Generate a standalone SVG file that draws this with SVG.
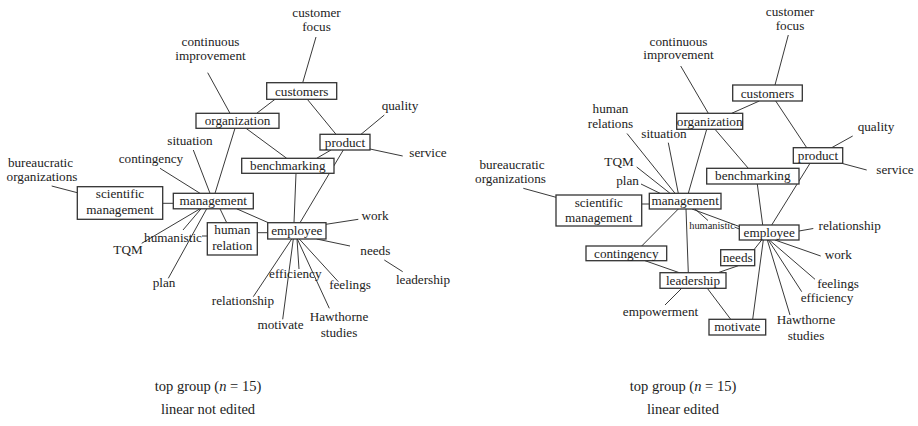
<svg xmlns="http://www.w3.org/2000/svg" width="918" height="426" viewBox="0 0 918 426" font-family="'Liberation Serif', 'DejaVu Serif', serif">
<style>
text{font-family:"Liberation Serif","DejaVu Serif",serif;font-size:13.2px;fill:#222;text-anchor:middle}
.box{fill:#fff;stroke:#333;stroke-width:1.3}
.cn line{stroke:#222;stroke-width:0.9}
.sm{font-size:10.4px}
.cap{font-size:14.5px}
</style>
<rect width="918" height="426" fill="#fff"/>
<!-- LEFT connectors -->
<g id="connectors-left" class="cn">
<line x1="316" y1="37" x2="302.7" y2="82.7"/>
<line x1="275" y1="99.3" x2="256.7" y2="113.3"/>
<line x1="207.7" y1="72.7" x2="230" y2="113.3"/>
<line x1="307.3" y1="99.3" x2="336" y2="134.3"/>
<line x1="384.3" y1="115" x2="361" y2="134.3"/>
<line x1="370" y1="149" x2="402.7" y2="156"/>
<line x1="246" y1="128.3" x2="286.7" y2="158.3"/>
<line x1="331" y1="150" x2="316.7" y2="158.3"/>
<line x1="343.3" y1="150" x2="300" y2="222.7"/>
<line x1="296" y1="173.3" x2="294" y2="222.7"/>
<line x1="235" y1="128.3" x2="215" y2="193.3"/>
<line x1="193.3" y1="150" x2="210" y2="193.3"/>
<line x1="160" y1="168.3" x2="200" y2="193.3"/>
<line x1="51.7" y1="186" x2="77.3" y2="192.7"/>
<line x1="162.7" y1="203.3" x2="173.3" y2="203.3"/>
<line x1="220" y1="208.8" x2="226.7" y2="222.7"/>
<line x1="236.7" y1="208.8" x2="268.3" y2="222.7"/>
<line x1="257.3" y1="232.7" x2="267.7" y2="232.7"/>
<line x1="201" y1="208.8" x2="183" y2="230"/>
<line x1="202" y1="236" x2="207.3" y2="236"/>
<line x1="200" y1="208.8" x2="141.7" y2="243.3"/>
<line x1="206.7" y1="208.8" x2="168.3" y2="278.3"/>
<line x1="326" y1="224.3" x2="358.3" y2="219.3"/>
<line x1="316.7" y1="239" x2="350" y2="246"/>
<line x1="384.3" y1="260" x2="402.7" y2="271.7"/>
<line x1="297" y1="239" x2="299" y2="269"/>
<line x1="291.7" y1="239" x2="253.3" y2="296.7"/>
<line x1="293.3" y1="239" x2="282.7" y2="319.3"/>
<line x1="299.3" y1="239" x2="338.3" y2="281.7"/>
<line x1="297.3" y1="239" x2="329.3" y2="308.3"/>
</g>
<!-- RIGHT connectors -->
<g id="connectors-right" class="cn">
<line x1="788.3" y1="35" x2="775" y2="85"/>
<line x1="759.3" y1="101" x2="731.7" y2="113.3"/>
<line x1="680.7" y1="66" x2="708.3" y2="113.3"/>
<line x1="775.7" y1="101" x2="806.7" y2="147.7"/>
<line x1="852.7" y1="136" x2="831.7" y2="147.7"/>
<line x1="841.7" y1="163.3" x2="866.7" y2="170"/>
<line x1="715" y1="129.3" x2="748.3" y2="168.3"/>
<line x1="706.7" y1="129.3" x2="688.3" y2="193.3"/>
<line x1="627" y1="133.5" x2="675" y2="193.3"/>
<line x1="668.3" y1="142.7" x2="678.3" y2="193.3"/>
<line x1="636.7" y1="167" x2="670" y2="193.3"/>
<line x1="641" y1="184" x2="660" y2="193.3"/>
<line x1="523.3" y1="188.3" x2="556" y2="197.3"/>
<line x1="641.7" y1="204" x2="649.3" y2="204"/>
<line x1="678.3" y1="209" x2="641.7" y2="246"/>
<line x1="645" y1="260.7" x2="679.3" y2="272.7"/>
<line x1="686" y1="209" x2="688.3" y2="272.7"/>
<line x1="681.7" y1="288.3" x2="665" y2="305"/>
<line x1="707.3" y1="288.3" x2="730.7" y2="319.3"/>
<line x1="738.3" y1="265.7" x2="718" y2="272.7"/>
<line x1="761.7" y1="240" x2="754" y2="249.7"/>
<line x1="757.3" y1="184" x2="762.7" y2="225"/>
<line x1="810" y1="163.3" x2="771.7" y2="225"/>
<line x1="692" y1="209" x2="739.3" y2="226.5"/>
<line x1="695" y1="209" x2="708" y2="220.5"/>
<line x1="734.5" y1="227" x2="739.3" y2="229"/>
<line x1="799" y1="231" x2="813.3" y2="228.5"/>
<line x1="775" y1="240" x2="820.7" y2="256"/>
<line x1="769.3" y1="240" x2="815" y2="279.3"/>
<line x1="768.3" y1="240" x2="801.7" y2="291.7"/>
<line x1="767.3" y1="240" x2="790" y2="315"/>
<line x1="763.3" y1="240" x2="752.7" y2="319.3"/>
</g>
<!-- LEFT nodes -->
<g id="L-customers"><rect class="box" x="266.7" y="82.7" width="70" height="16.6"/><text x="301.7" y="95.5">customers</text></g>
<g id="L-organization"><rect class="box" x="196" y="113.3" width="83" height="15"/><text x="237.5" y="125">organization</text></g>
<g id="L-product"><rect class="box" x="320" y="134.3" width="50" height="15.7"/><text x="345" y="146.5">product</text></g>
<g id="L-benchmarking"><rect class="box" x="241.7" y="158.3" width="92.3" height="15"/><text x="287.8" y="170">benchmarking</text></g>
<g id="L-management"><rect class="box" x="173.3" y="193.3" width="80" height="15.5"/><text x="213.3" y="205">management</text></g>
<g id="L-scientific-management"><rect class="box" x="77.3" y="186.7" width="85.4" height="32.6"/><text x="120" y="198">scientific</text><text x="120" y="213.5">management</text></g>
<g id="L-human-relation"><rect class="box" x="207.3" y="222.7" width="50" height="32.3"/><text x="232.3" y="233.5">human</text><text x="232.3" y="249.5">relation</text></g>
<g id="L-employee"><rect class="box" x="267.7" y="222.7" width="58.3" height="16.3"/><text x="296.8" y="235">employee</text></g>
<g id="L-customer-focus"><text x="316.5" y="17">customer</text><text x="316.5" y="31">focus</text></g>
<g id="L-continuous-improvement"><text x="210.5" y="46">continuous</text><text x="210.5" y="60">improvement</text></g>
<g id="L-quality"><text x="400" y="110">quality</text></g>
<g id="L-service"><text x="428" y="157">service</text></g>
<g id="L-situation"><text x="190" y="145">situation</text></g>
<g id="L-contingency"><text x="151" y="163">contingency</text></g>
<g id="L-bureaucratic"><text x="40.5" y="166.5">bureaucratic</text><text x="42" y="180.5">organizations</text></g>
<g id="L-humanistic"><text x="173" y="241.5">humanistic</text></g>
<g id="L-TQM"><text x="128" y="254">TQM</text></g>
<g id="L-plan"><text x="164" y="287">plan</text></g>
<g id="L-work"><text x="375" y="220">work</text></g>
<g id="L-needs"><text x="375.3" y="255">needs</text></g>
<g id="L-leadership"><text x="423" y="284">leadership</text></g>
<g id="L-efficiency"><text x="295.3" y="278">efficiency</text></g>
<g id="L-relationship"><text x="243" y="305">relationship</text></g>
<g id="L-motivate"><text x="280.5" y="329">motivate</text></g>
<g id="L-feelings"><text x="350" y="289">feelings</text></g>
<g id="L-hawthorne"><text x="339" y="320.7">Hawthorne</text><text x="339" y="336.7">studies</text></g>
<!-- RIGHT nodes -->
<g id="R-customers"><rect class="box" x="732.7" y="85" width="69.6" height="16"/><text x="767.5" y="97.5">customers</text></g>
<g id="R-organization"><rect class="box" x="676.7" y="113.3" width="66" height="16"/><text x="709.7" y="125.5">organization</text></g>
<g id="R-product"><rect class="box" x="793.3" y="147.7" width="49.4" height="15.6"/><text x="818" y="159.5">product</text></g>
<g id="R-benchmarking"><rect class="box" x="706.7" y="168.3" width="92.3" height="15.7"/><text x="752.8" y="180">benchmarking</text></g>
<g id="R-management"><rect class="box" x="649.3" y="193.3" width="71.7" height="15.7"/><text x="685.2" y="205">management</text></g>
<g id="R-scientific-management"><rect class="box" x="556" y="195" width="85.7" height="31"/><text x="598.8" y="206.5">scientific</text><text x="598.8" y="221.5">management</text></g>
<g id="R-contingency"><rect class="box" x="586" y="246" width="80.7" height="14.7"/><text x="626.3" y="257.5">contingency</text></g>
<g id="R-leadership"><rect class="box" x="660" y="272.7" width="66" height="15.6"/><text x="693" y="284.5">leadership</text></g>
<g id="R-needs"><rect class="box" x="720.7" y="249.7" width="34" height="16"/><text x="737.7" y="261.5">needs</text></g>
<g id="R-employee"><rect class="box" x="739.3" y="225" width="59.7" height="15"/><text x="769.2" y="236.5">employee</text></g>
<g id="R-motivate"><rect class="box" x="709" y="319.3" width="56.7" height="15.7"/><text x="737.3" y="331">motivate</text></g>
<g id="R-customer-focus"><text x="790" y="16">customer</text><text x="790" y="30">focus</text></g>
<g id="R-continuous-improvement"><text x="678.5" y="45.5">continuous</text><text x="678.5" y="59">improvement</text></g>
<g id="R-quality"><text x="876" y="131">quality</text></g>
<g id="R-service"><text x="895" y="174">service</text></g>
<g id="R-human-relations"><text x="610.5" y="113">human</text><text x="610.5" y="128.3">relations</text></g>
<g id="R-situation"><text x="664" y="138">situation</text></g>
<g id="R-TQM"><text x="619" y="166">TQM</text></g>
<g id="R-plan"><text x="627.5" y="185">plan</text></g>
<g id="R-bureaucratic"><text x="512" y="168.5">bureaucratic</text><text x="510.5" y="182.5">organizations</text></g>
<g id="R-humanistic"><text class="sm" x="712" y="228.5">humanistic</text></g>
<g id="R-empowerment"><text x="660.5" y="316">empowerment</text></g>
<g id="R-relationship"><text x="849.7" y="229.5">relationship</text></g>
<g id="R-work"><text x="838.3" y="258.5">work</text></g>
<g id="R-feelings"><text x="838" y="288">feelings</text></g>
<g id="R-efficiency"><text x="827" y="301.5">efficiency</text></g>
<g id="R-hawthorne"><text x="806" y="324">Hawthorne</text><text x="806" y="340">studies</text></g>
<!-- captions -->
<g id="caption-left"><text class="cap" x="208" y="391">top group (<tspan font-style="italic">n</tspan> = 15)</text><text class="cap" x="208" y="414">linear not edited</text></g>
<g id="caption-right"><text class="cap" x="683" y="391">top group (<tspan font-style="italic">n</tspan> = 15)</text><text class="cap" x="683" y="414">linear edited</text></g>
</svg>
